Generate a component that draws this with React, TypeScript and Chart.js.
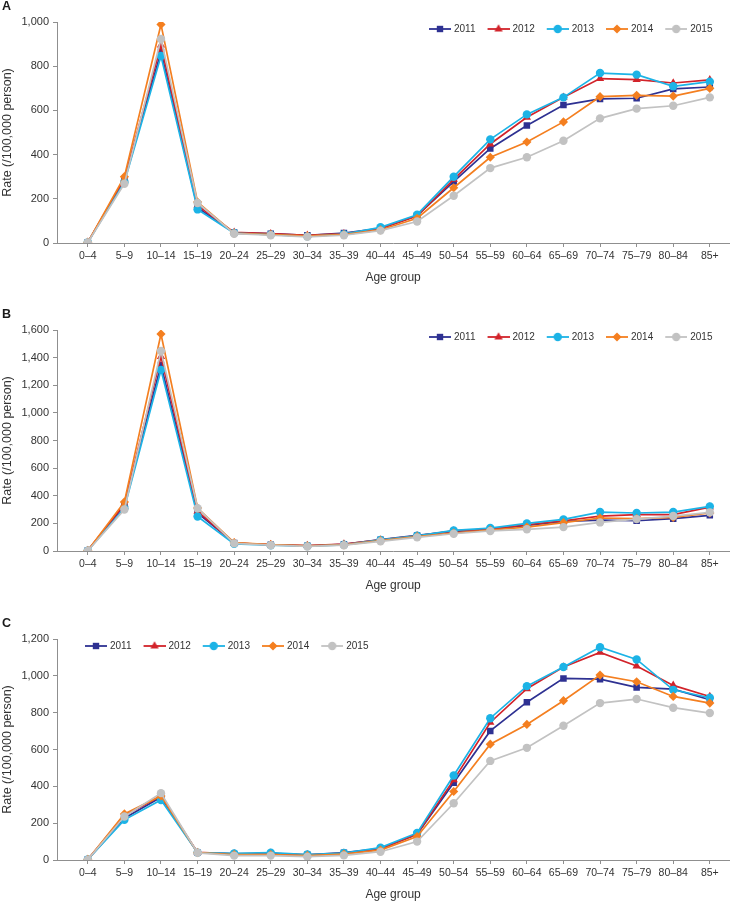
import React, { useEffect, useRef } from 'react';
import { Chart, registerables } from 'chart.js';

Chart.register(...registerables);
Chart.defaults.font.family = '"Liberation Sans", Arial, sans-serif';

const ageGroups = ['0–4', '5–9', '10–14', '15–19', '20–24', '25–29', '30–34', '35–39', '40–44', '45–49', '50–54', '55–59', '60–64', '65–69', '70–74', '75–79', '80–84', '85+'];
const years = ['2011', '2012', '2013', '2014', '2015'];
const yearColors = ['#2e3192', '#d2232a', '#1cb3e6', '#f47f20', '#c2c2c2'];
const yearMarkers = ['rect', 'triangle', 'circle', 'rectRot', 'circle'];
const markerRadius = [4.6, 4.8, 4.2, 4.6, 4.2];

// Panel A
const panelA2011 = [3, 285, 865, 160, 47, 42, 35, 45, 66, 124, 278, 428, 532, 624, 652, 655, 697, 706];
const panelA2012 = [3, 290, 895, 170, 48, 42, 35, 42, 65, 122, 288, 448, 569, 659, 744, 739, 724, 738];
const panelA2013 = [3, 275, 846, 152, 45, 38, 30, 40, 71, 128, 300, 469, 582, 659, 769, 762, 709, 730];
const panelA2014 = [3, 300, 989, 185, 44, 38, 32, 38, 59, 112, 250, 388, 457, 548, 662, 668, 665, 700];
const panelA2015 = [2, 268, 923, 181, 42, 35, 28, 35, 56, 97, 214, 339, 388, 463, 564, 608, 621, 659];

// Panel B
const panelB2011 = [3, 330, 1347, 275, 58, 45, 38, 48, 82, 113, 142, 154, 186, 214, 224, 219, 234, 258];
const panelB2012 = [3, 340, 1407, 287, 58, 46, 40, 50, 80, 110, 145, 159, 190, 219, 253, 263, 263, 318];
const panelB2013 = [3, 310, 1311, 250, 52, 42, 36, 45, 80, 110, 149, 166, 200, 229, 282, 275, 282, 323];
const panelB2014 = [3, 355, 1571, 311, 60, 46, 38, 44, 75, 105, 130, 152, 173, 205, 239, 234, 243, 275];
const panelB2015 = [2, 300, 1448, 310, 55, 42, 33, 42, 70, 99, 125, 145, 157, 173, 207, 231, 253, 280];

// Panel C
const panelC2011 = [3, 227, 341, 40, 33, 33, 28, 40, 62, 140, 420, 701, 857, 986, 982, 937, 928, 870];
const panelC2012 = [3, 243, 348, 41, 33, 36, 28, 36, 60, 141, 435, 747, 930, 1048, 1127, 1053, 948, 888];
const panelC2013 = [3, 218, 326, 40, 36, 40, 30, 38, 67, 147, 459, 770, 944, 1048, 1155, 1089, 924, 881];
const panelC2014 = [3, 250, 348, 40, 30, 30, 24, 32, 54, 127, 372, 629, 736, 865, 1004, 968, 888, 852];
const panelC2015 = [2, 236, 363, 39, 24, 24, 18, 25, 45, 100, 308, 538, 609, 729, 852, 874, 827, 798];

const AXIS_COLOR = '#8f8f8f';
const TEXT_COLOR = '#333333';

function makeLegendIcon(color: string, shape: string): HTMLCanvasElement {
  const c = document.createElement('canvas');
  c.width = 30;
  c.height = 12;
  const ctx = c.getContext('2d')!;
  ctx.strokeStyle = color;
  ctx.fillStyle = color;
  ctx.lineWidth = 1.8;
  ctx.beginPath();
  ctx.moveTo(8, 6);
  ctx.lineTo(30, 6);
  ctx.stroke();
  const cx = 19, cy = 6;
  ctx.beginPath();
  if (shape === 'rect') {
    ctx.rect(cx - 3.2, cy - 3.2, 6.4, 6.4);
  } else if (shape === 'triangle') {
    const r = 4.8;
    let a = 0;
    ctx.moveTo(cx + Math.sin(a) * r, cy - Math.cos(a) * r);
    a += (2 * Math.PI) / 3;
    ctx.lineTo(cx + Math.sin(a) * r, cy - Math.cos(a) * r);
    a += (2 * Math.PI) / 3;
    ctx.lineTo(cx + Math.sin(a) * r, cy - Math.cos(a) * r);
    ctx.closePath();
  } else if (shape === 'rectRot') {
    const r = 4.6;
    ctx.moveTo(cx, cy - r);
    ctx.lineTo(cx + r, cy);
    ctx.lineTo(cx, cy + r);
    ctx.lineTo(cx - r, cy);
    ctx.closePath();
  } else {
    ctx.arc(cx, cy, 4.2, 0, Math.PI * 2);
  }
  ctx.fill();
  return c;
}

const legendShift = {
  id: 'legendShift',
  afterLayout(chart: any, _args: any, opts: any) {
    const lg = chart.legend;
    if (!lg || !opts || opts.x == null) return;
    const labels = lg.options.labels;
    const pad = labels.padding;
    const fs = (labels.font && labels.font.size) || 10;
    const align = lg.options.align;
    const startX = align === 'end'
      ? lg.right - lg.lineWidths[0]
      : align === 'start'
        ? lg.left + pad
        : (lg.left + pad + lg.right - lg.lineWidths[0]) / 2;
    const dx = opts.x - startX;
    const dy = opts.y - (lg.top + pad + fs / 2);
    lg.left += dx;
    lg.right += dx;
    lg.top += dy;
    lg.height = 2 * pad + fs + 8;
    lg.bottom = lg.top + lg.height;
  },
};

const panelLetter = {
  id: 'panelLetter',
  afterDraw(chart: any, _args: any, opts: any) {
    if (!opts || !opts.text) return;
    const ctx = chart.ctx;
    ctx.save();
    ctx.font = 'bold 12.5px "Liberation Sans", Arial, sans-serif';
    ctx.fillStyle = '#1a1a1a';
    ctx.textBaseline = 'middle';
    ctx.textAlign = 'left';
    ctx.fillText(opts.text, 2, 7);
    ctx.restore();
  },
};

type PanelProps = {
  letter: string;
  series: number[][];
  yMax: number;
  align: 'start' | 'end';
  legendX: number;
  height: number;
};

function Panel({ letter, series, yMax, align, legendX, height }: PanelProps) {
  const ref = useRef<HTMLCanvasElement | null>(null);
  useEffect(() => {
    if (!ref.current) return;
    const icons = years.map((_, i) => makeLegendIcon(yearColors[i], yearMarkers[i]));
    const datasets = years.map((yr, i) => ({
      label: yr,
      data: series[i].map((v, j) => ({ x: j, y: v })),
      borderColor: yearColors[i],
      backgroundColor: yearColors[i],
      pointBackgroundColor: yearColors[i],
      pointBorderColor: yearColors[i],
      pointBorderWidth: 0,
      pointStyle: yearMarkers[i] as any,
      pointRadius: markerRadius[i],
      borderWidth: 1.7,
      tension: 0,
      order: years.length - i,
    }));
    const chart = new Chart(ref.current, {
      type: 'line',
      data: { datasets },
      plugins: [legendShift, panelLetter],
      options: {
        animation: false,
        responsive: false,
        devicePixelRatio: 1,
        events: [],
        layout: { padding: { top: 21, left: 0, right: 1, bottom: height - 243 - 42 } },
        scales: {
          x: {
            type: 'linear',
            min: -0.842,
            max: 17.53,
            afterFit: (s: any) => { s.height = 42; },
            ticks: {
              stepSize: 1,
              includeBounds: false,
              autoSkip: false,
              maxRotation: 0,
              minRotation: 0,
              padding: 3,
              color: TEXT_COLOR,
              font: { size: 10.5 },
              callback: (v: any) => (Number.isInteger(v) && ageGroups[v] !== undefined ? ageGroups[v] : ''),
            },
            grid: { drawOnChartArea: false, drawTicks: true, tickLength: 4, color: AXIS_COLOR },
            border: { display: true, color: AXIS_COLOR, width: 1 },
            title: { display: true, text: 'Age group', color: TEXT_COLOR, font: { size: 12 }, padding: 0 },
          },
          y: {
            min: 0,
            max: yMax,
            afterFit: (s: any) => { s.width = 57; },
            ticks: { stepSize: 200, padding: 4, color: TEXT_COLOR, font: { size: 11 } },
            grid: { drawOnChartArea: false, drawTicks: true, tickLength: 4, color: AXIS_COLOR },
            border: { display: true, color: AXIS_COLOR, width: 1 },
            title: { display: true, text: 'Rate (/100,000 person)', color: TEXT_COLOR, font: { size: 12.5 }, padding: { top: 0.5, bottom: 0 } },
          },
        },
        plugins: {
          legend: {
            display: true,
            position: 'top',
            align,
            reverse: true,
            maxHeight: 1,
            labels: {
              usePointStyle: true,
              pointStyleWidth: 26,
              padding: 6,
              color: TEXT_COLOR,
              font: { size: 10 },
              generateLabels: (ch: any) => {
                const items = (Chart.defaults.plugins.legend.labels as any).generateLabels(ch);
                items.forEach((it: any) => { it.pointStyle = icons[it.datasetIndex]; });
                return items;
              },
            },
          },
          tooltip: { enabled: false },
          legendShift: { x: legendX - 6, y: 29 },
          panelLetter: { text: letter },
        } as any,
      } as any,
    });
    return () => chart.destroy();
  }, []);
  return <canvas ref={ref} width={734} height={height} style={{ display: 'block', width: 734, height }} />;
}

export default function App() {
  useEffect(() => {
    document.body.style.margin = '0';
  }, []);
  return (
    <div style={{ width: 734, height: 902, background: '#fff', overflow: 'hidden' }}>
      <Panel letter="A" series={[panelA2011, panelA2012, panelA2013, panelA2014, panelA2015]} yMax={1000} align="end" legendX={429} height={308} />
      <Panel letter="B" series={[panelB2011, panelB2012, panelB2013, panelB2014, panelB2015]} yMax={1600} align="end" legendX={429} height={309} />
      <Panel letter="C" series={[panelC2011, panelC2012, panelC2013, panelC2014, panelC2015]} yMax={1200} align="start" legendX={85} height={285} />
    </div>
  );
}
